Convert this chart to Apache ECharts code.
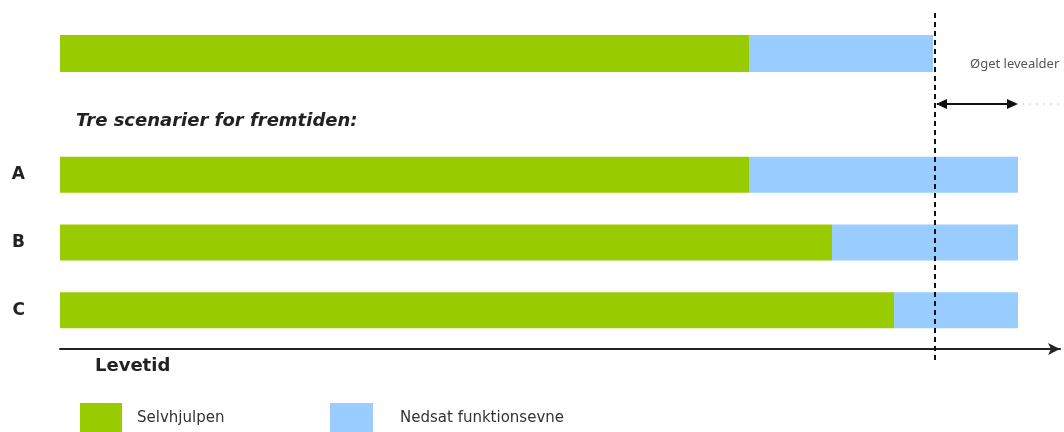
<!DOCTYPE html>
<html>
<head>
<meta charset="utf-8">
<script src="https://cdn.jsdelivr.net/npm/echarts@6/dist/echarts.min.js"></script>
<style>
html,body{margin:0;padding:0;background:#fff;}
#main{width:1064px;height:432px;}
</style>
</head>
<body>
<div id="main"></div>
<script>
// rækker: i dag + tre scenarier
var rowLabels = ['', 'A', 'B', 'C'];
var selvhjulpen = [68.9, 68.9, 77.2, 83.4];   // grøn del
var nedsat = [18.4, 26.9, 18.6, 12.4];        // blå del
var levetidNu = 87.5;     // stiplet linje (nuværende levealder)
var levetidFremtid = 95.8; // øget levealder
var axisMax = 100;

var green = '#99cc00', blue = '#99ccff';
var dom = document.getElementById('main');
var myChart = echarts.init(dom);

var option = {
  animation:false,
  grid:[
    {left:60, right:4, top:35, height:37},
    {left:60, right:4, top:141, height:203}
  ],
  xAxis:[
    {gridIndex:0, type:'value', min:0, max:axisMax, show:false},
    {gridIndex:1, type:'value', min:0, max:axisMax, splitLine:{show:false},
     axisLabel:{show:false}, axisTick:{show:false}, offset:5,
     axisLine:{show:true, symbol:['none','arrow'], symbolSize:[9,12],
       lineStyle:{color:'#222', width:2}}}
  ],
  yAxis:[
    {gridIndex:0, type:'category', data:[rowLabels[0]], show:false},
    {gridIndex:1, type:'category', data:rowLabels.slice(1), inverse:true,
     axisLine:{show:false}, axisTick:{show:false},
     axisLabel:{margin:35, fontSize:17, fontWeight:'bold', color:'#222', fontFamily:'DejaVu Sans'}}
  ],
  legend:[
    {data:['Selvhjulpen'], left:80, top:403, padding:0, itemWidth:42, itemHeight:30, icon:'rect',
     textStyle:{fontSize:15, color:'#333', fontFamily:'DejaVu Sans', padding:[0,0,0,10]}},
    {data:['Nedsat funktionsevne'], left:330, top:403, padding:0, itemWidth:43, itemHeight:30, icon:'rect',
     textStyle:{fontSize:15, color:'#333', fontFamily:'DejaVu Sans', padding:[0,0,0,22]}}
  ],
  series:[
    {name:'Selvhjulpen', type:'bar', stack:'s0', xAxisIndex:0, yAxisIndex:0, barWidth:37,
     itemStyle:{color:green}, data:selvhjulpen.slice(0,1), silent:true},
    {name:'Nedsat funktionsevne', type:'bar', stack:'s0', xAxisIndex:0, yAxisIndex:0, barWidth:37,
     itemStyle:{color:blue}, data:nedsat.slice(0,1), silent:true},
    {name:'Selvhjulpen', type:'bar', stack:'s1', xAxisIndex:1, yAxisIndex:1, barWidth:36,
     itemStyle:{color:green}, data:selvhjulpen.slice(1), silent:true},
    {name:'Nedsat funktionsevne', type:'bar', stack:'s1', xAxisIndex:1, yAxisIndex:1, barWidth:36,
     itemStyle:{color:blue}, data:nedsat.slice(1), silent:true}
  ]
};
myChart.setOption(option);

// linjer og tekster ud fra akse-skalaen
var xNu = myChart.convertToPixel({xAxisIndex:1}, levetidNu);
var xFrem = myChart.convertToPixel({xAxisIndex:1}, levetidFremtid);
var arrowY = 104;
myChart.setOption({
  graphic:[
    {type:'line', shape:{x1:xNu, y1:13, x2:xNu, y2:362}, z:100,
     style:{stroke:'#111', lineWidth:2, lineDash:[5,4]}},
    {type:'line', shape:{x1:xNu+2, y1:arrowY, x2:xFrem-2, y2:arrowY}, z:100,
     style:{stroke:'#111', lineWidth:2}},
    {type:'polygon', shape:{points:[[xNu+1,arrowY],[xNu+12,arrowY-5],[xNu+12,arrowY+5]]}, z:100,
     style:{fill:'#111'}},
    {type:'polygon', shape:{points:[[xFrem,arrowY],[xFrem-11,arrowY-5],[xFrem-11,arrowY+5]]}, z:100,
     style:{fill:'#111'}},
    {type:'line', shape:{x1:xFrem+4, y1:arrowY, x2:1064, y2:arrowY},
     style:{stroke:'#ccc', lineWidth:1, lineDash:[2,5]}},
    {type:'text', left:970, top:58,
     style:{text:'Øget levealder', fontSize:13, fill:'#555', fontFamily:'Noto Sans'}},
    {type:'text', left:76, top:112,
     style:{text:'Tre scenarier for fremtiden:', fontSize:18, fontWeight:'bold', fontStyle:'italic',
       fill:'#222', fontFamily:'DejaVu Sans'}},
    {type:'text', left:95, top:357,
     style:{text:'Levetid', fontSize:18, fontWeight:'bold', fill:'#222', fontFamily:'DejaVu Sans'}}
  ]
});
window.onresize = function(){ myChart.resize(); };
</script>
</body>
</html>
